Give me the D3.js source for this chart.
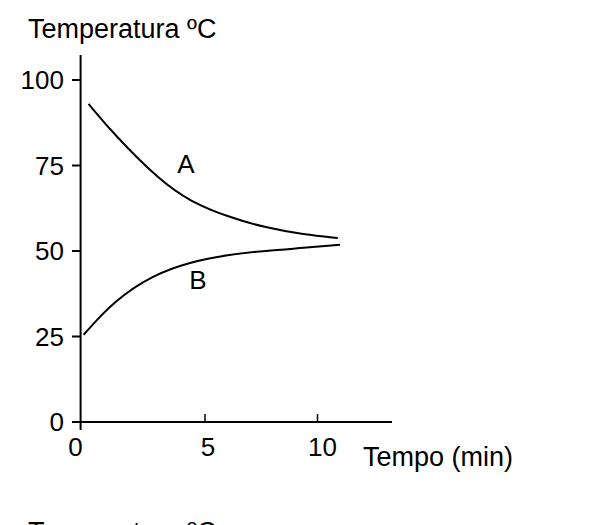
<!DOCTYPE html><html><head><script src="https://cdn.jsdelivr.net/npm/d3@7"></script>
<style>body{margin:0;background:#fff}text{font-family:"Liberation Sans",Arial,sans-serif;fill:#000}</style></head><body>
<svg id="c" width="590" height="525"></svg>
<script>
const xTicks=[0,5,10];
const yTicks=[0,25,50,75,100];
const timeA=[0.32,1.35,3.2,4.4,6.0,7.7,9.4,10.9];
const tempA=[93,84,70.5,64.5,60,56.8,54.8,53.8];
const timeB=[0.12,1.35,2.9,4.4,6.0,7.7,9.4,11.0];
const tempB=[25.5,35.5,43,46.8,48.9,50.1,50.9,51.8];
const svg=d3.select("#c");
const xs=d3.scaleLinear().domain([0,5,10]).range([80.6,205,317.5]);
const ys=d3.scaleLinear().domain([0,100]).range([422,80]);
const k="#000";
svg.append("line").attr("x1",80.6).attr("x2",80.6).attr("y1",55).attr("y2",430).attr("stroke",k).attr("stroke-width",2);
svg.append("line").attr("x1",72).attr("x2",392).attr("y1",422).attr("y2",422).attr("stroke",k).attr("stroke-width",2);
yTicks.forEach(v=>{
  svg.append("line").attr("x1",72).attr("x2",80.6).attr("y1",ys(v)).attr("y2",ys(v)).attr("stroke",k).attr("stroke-width",2);
  svg.append("text").attr("x",64).attr("y",ys(v)+9).attr("text-anchor","end").attr("font-size",26).text(v);
});
xTicks.forEach(v=>{
  if(v>0) svg.append("line").attr("x1",xs(v)).attr("x2",xs(v)).attr("y1",414).attr("y2",422).attr("stroke",k).attr("stroke-width",1.5);
  svg.append("text").attr("x",xs(v)+(v==0?-5:3)+(v==10?2:0)).attr("y",456).attr("text-anchor","middle").attr("font-size",26).text(v);
});
svg.append("text").attr("x",363).attr("y",466).attr("font-size",27).text("Tempo (min)");
svg.append("text").attr("x",28).attr("y",38).attr("font-size",27).text("Temperatura ºC");
svg.append("text").attr("x",28).attr("y",541).attr("font-size",27).text("Temperatura ºC");
const line=d3.line().x(d=>xs(d[0])).y(d=>ys(d[1])).curve(d3.curveBasis);
[[timeA,tempA],[timeB,tempB]].forEach(([t,v])=>{
  svg.append("path").attr("d",line(t.map((d,i)=>[d,v[i]]))).attr("fill","none").attr("stroke",k).attr("stroke-width",2);
});
svg.append("text").attr("x",186).attr("y",173).attr("text-anchor","middle").attr("font-size",26).text("A");
svg.append("text").attr("x",198).attr("y",289).attr("text-anchor","middle").attr("font-size",26).text("B");
</script></body></html>
